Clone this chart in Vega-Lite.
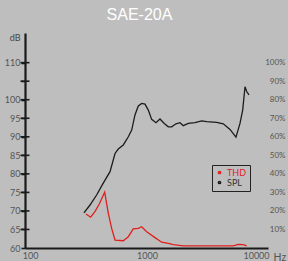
{
  "$schema": "https://vega.github.io/schema/vega-lite/v6.json",
  "width": 243,
  "height": 215,
  "autosize": {"type": "none"},
  "padding": {"left": 25, "top": 33, "right": 20, "bottom": 13},
  "background": "#bebebe",
  "title": {"text": "SAE-20A", "color": "#ffffff", "font": "Liberation Sans", "fontSize": 16, "fontWeight": "normal", "anchor": "middle", "dx": -7, "offset": 10},
  "config": {"view": {"stroke": null}, "axis": {"labelFont": "Lato", "labelColor": "#555555", "grid": false}},
  "datasets": {
    "spl": [
      {"freq": 264, "value": 69.5, "series": "SPL"},
      {"freq": 300, "value": 71.6, "series": "SPL"},
      {"freq": 345, "value": 74.3, "series": "SPL"},
      {"freq": 397, "value": 77.5, "series": "SPL"},
      {"freq": 458, "value": 80.6, "series": "SPL"},
      {"freq": 509, "value": 85.5, "series": "SPL"},
      {"freq": 545, "value": 86.7, "series": "SPL"},
      {"freq": 606, "value": 87.8, "series": "SPL"},
      {"freq": 674, "value": 90.0, "series": "SPL"},
      {"freq": 724, "value": 91.8, "series": "SPL"},
      {"freq": 776, "value": 95.9, "series": "SPL"},
      {"freq": 832, "value": 98.3, "series": "SPL"},
      {"freq": 894, "value": 99.0, "series": "SPL"},
      {"freq": 959, "value": 98.8, "series": "SPL"},
      {"freq": 1028, "value": 97.2, "series": "SPL"},
      {"freq": 1104, "value": 94.7, "series": "SPL"},
      {"freq": 1209, "value": 93.8, "series": "SPL"},
      {"freq": 1316, "value": 94.8, "series": "SPL"},
      {"freq": 1441, "value": 93.6, "series": "SPL"},
      {"freq": 1568, "value": 92.7, "series": "SPL"},
      {"freq": 1685, "value": 92.7, "series": "SPL"},
      {"freq": 1846, "value": 93.5, "series": "SPL"},
      {"freq": 2008, "value": 93.8, "series": "SPL"},
      {"freq": 2153, "value": 93.0, "series": "SPL"},
      {"freq": 2393, "value": 93.6, "series": "SPL"},
      {"freq": 2757, "value": 93.8, "series": "SPL"},
      {"freq": 3176, "value": 94.3, "series": "SPL"},
      {"freq": 3530, "value": 94.1, "series": "SPL"},
      {"freq": 4359, "value": 93.9, "series": "SPL"},
      {"freq": 5012, "value": 93.5, "series": "SPL"},
      {"freq": 5774, "value": 92.0, "series": "SPL"},
      {"freq": 6554, "value": 89.9, "series": "SPL"},
      {"freq": 7133, "value": 93.6, "series": "SPL"},
      {"freq": 7551, "value": 97.2, "series": "SPL"},
      {"freq": 7931, "value": 103.5, "series": "SPL"},
      {"freq": 8217, "value": 102.2, "series": "SPL"},
      {"freq": 8627, "value": 101.3, "series": "SPL"}
    ],
    "thd": [
      {"freq": 276, "value": 18.3, "series": "THD"},
      {"freq": 304, "value": 16.6, "series": "THD"},
      {"freq": 333, "value": 19.6, "series": "THD"},
      {"freq": 365, "value": 23.7, "series": "THD"},
      {"freq": 409, "value": 30.1, "series": "THD"},
      {"freq": 442, "value": 18.7, "series": "THD"},
      {"freq": 474, "value": 10.6, "series": "THD"},
      {"freq": 509, "value": 4.3, "series": "THD"},
      {"freq": 606, "value": 3.9, "series": "THD"},
      {"freq": 674, "value": 6.1, "series": "THD"},
      {"freq": 748, "value": 10.3, "series": "THD"},
      {"freq": 832, "value": 10.6, "series": "THD"},
      {"freq": 894, "value": 11.5, "series": "THD"},
      {"freq": 994, "value": 8.8, "series": "THD"},
      {"freq": 1184, "value": 5.6, "series": "THD"},
      {"freq": 1364, "value": 3.1, "series": "THD"},
      {"freq": 1568, "value": 2.5, "series": "THD"},
      {"freq": 1743, "value": 1.8, "series": "THD"},
      {"freq": 2153, "value": 1.2, "series": "THD"},
      {"freq": 3285, "value": 1.1, "series": "THD"},
      {"freq": 6189, "value": 1.1, "series": "THD"},
      {"freq": 6881, "value": 2.0, "series": "THD"},
      {"freq": 7645, "value": 1.8, "series": "THD"},
      {"freq": 8217, "value": 1.2, "series": "THD"}
    ],
    "ytick": [
      {"level": 65}, {"level": 70}, {"level": 75}, {"level": 80}, {"level": 85},
      {"level": 90}, {"level": 95}, {"level": 100}, {"level": 105}, {"level": 110}
    ]
  },
  "layer": [
    {
      "data": {"name": "spl"},
      "mark": {"type": "line", "strokeWidth": 1.3},
      "encoding": {
        "x": {
          "field": "freq", "type": "quantitative",
          "scale": {"type": "log", "domain": [76, 12890], "nice": false},
          "axis": {
            "values": [100, 1000, 10000], "format": "d", "ticks": false, "tickSize": 0,
            "domainColor": "#1a1a1a", "domainWidth": 2.2, "labelFontSize": 9,
            "labelPadding": 3,
            "labelAlign": {"condition": {"test": "datum.value <= 100", "value": "right"}, "value": "center"},
            "title": "Hz", "titleFont": "Lato", "titleFontSize": 10.5, "titleFontWeight": "normal", "titleColor": "#555555",
            "titleAlign": "left", "titleBaseline": "alphabetic", "titleX": 248, "titleY": 12, "titleAngle": 0
          }
        },
        "y": {
          "field": "value", "type": "quantitative",
          "scale": {"domain": [60, 118], "nice": false, "zero": false},
          "axis": {
            "orient": "left", "values": [60, 65, 70, 75, 80, 85, 90, 95, 100, 105, 110],
            "labelExpr": "datum.value == 105 ? '' : datum.label",
            "ticks": true, "tickSize": 4, "tickWidth": 1.6, "tickColor": "#1a1a1a", "labelPadding": 1, "labelFontSize": 9,
            "domainColor": "#1a1a1a", "domainWidth": 2.2,
            "title": "dB", "titleFont": "Lato", "titleFontSize": 9, "titleFontWeight": "normal", "titleColor": "#444444",
            "titleAngle": 0, "titleAlign": "right", "titleBaseline": "alphabetic", "titleX": -5, "titleY": 7
          }
        },
        "color": {
          "field": "series", "type": "nominal",
          "scale": {"domain": ["THD", "SPL"], "range": ["#e0201e", "#1c1c1c"]},
          "legend": {
            "title": null, "orient": "none", "legendX": 187, "legendY": 132,
            "strokeColor": "#222222", "padding": 3, "symbolType": "circle", "symbolSize": 5,
            "labelFont": "Lato", "labelFontSize": 9, "rowPadding": 0, "labelOffset": 3,
            "encode": {"labels": {"update": {"fill": {"signal": "datum.value === 'THD' ? '#e0201e' : '#333333'"}}}}
          }
        }
      }
    },
    {
      "data": {"name": "ytick"},
      "mark": {"type": "point", "shape": "M-1,0L1,0", "filled": false, "size": 81, "strokeWidth": 1.6, "stroke": "#1a1a1a", "opacity": 1},
      "encoding": {
        "x": {"datum": 76, "type": "quantitative"},
        "y": {"field": "level", "type": "quantitative", "scale": {"domain": [60, 118], "nice": false, "zero": false}, "axis": null}
      }
    },
    {
      "data": {"name": "thd"},
      "mark": {"type": "line", "strokeWidth": 1.3},
      "encoding": {
        "x": {"field": "freq", "type": "quantitative"},
        "y": {
          "field": "value", "type": "quantitative",
          "scale": {"domain": [0, 116], "nice": false},
          "axis": {
            "orient": "right", "values": [10, 20, 30, 40, 50, 60, 70, 80, 90, 100],
            "labelExpr": "datum.value + '%'", "domain": false, "ticks": false, "tickSize": 0,
            "labelAlign": "right", "labelPadding": 17, "labelFontSize": 8, "title": null
          }
        },
        "color": {"field": "series", "type": "nominal"}
      }
    }
  ],
  "resolve": {"scale": {"y": "independent"}}
}
